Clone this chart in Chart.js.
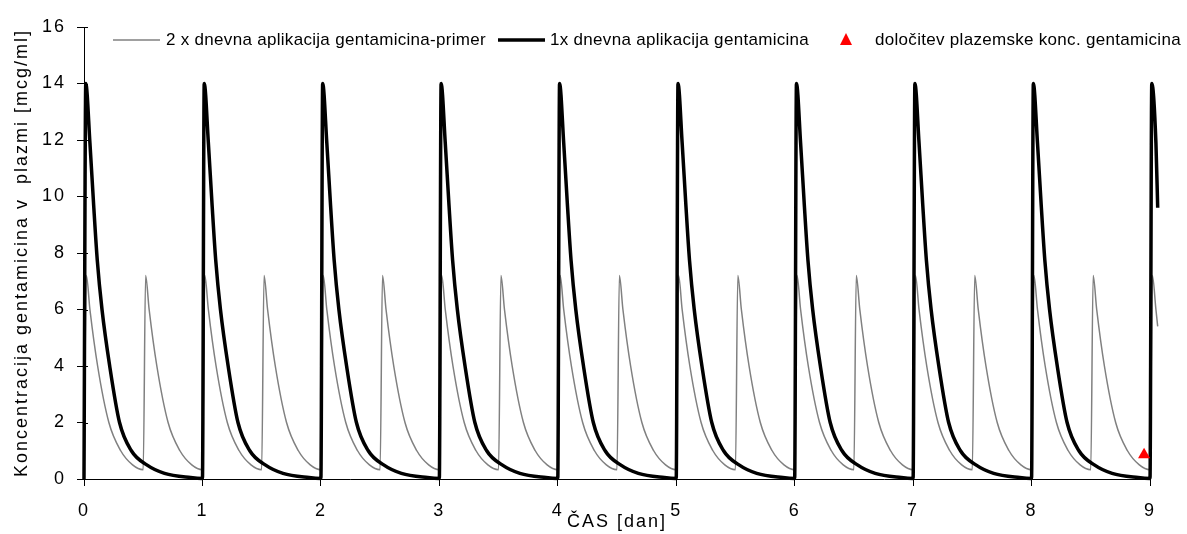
<!DOCTYPE html>
<html>
<head>
<meta charset="utf-8">
<script src="https://cdn.jsdelivr.net/npm/chart.js@4"></script>
<style>
  html, body { margin: 0; padding: 0; background: #fff; }
  #wrap { width: 1187px; height: 534px; position: relative; }
</style>
</head>
<body>
<div id="wrap"><canvas id="gentaChart"></canvas></div>
<script>
// one daily dose (1x) - time after dose [dan] and concentration [mcg/ml]
const onceOffsets = [0, 0.015, 0.05, 0.08, 0.112, 0.152, 0.217, 0.30, 0.40, 0.53, 0.68, 0.90];
const onceConc    = [0.02, 14, 11.9, 9.8, 7.75, 6, 4, 2, 1, 0.5, 0.2, 0.05];
const onceDoseDays = [0, 1, 2, 3, 4, 5, 6, 7, 8];
const onceTail = [[9, 0.02], [9.015, 14], [9.05, 11.9], [9.065, 9.6]];

// two daily doses - time after each dose and concentration
const twiceOffsets = [0, 0.02, 0.05, 0.115, 0.21, 0.31, 0.41];
const twiceConc    = [0.33, 7.2, 6, 4, 2, 1, 0.5];
const twiceDoseDays = [0, 0.5, 1, 1.5, 2, 2.5, 3, 3.5, 4, 4.5, 5, 5.5, 6, 6.5, 7, 7.5, 8, 8.5];
const twiceTail = [[9, 0.33], [9.02, 7.2], [9.05, 6], [9.065, 5.4]];

// measured plasma concentration
const sampleTime = [8.95];
const sampleConc = [0.86];

const xTicks = [0, 1, 2, 3, 4, 5, 6, 7, 8, 9];

function buildSeries(doseDays, offsets, conc, tail) {
  const pts = [];
  doseDays.forEach((d, i) => {
    offsets.forEach((o, j) => {
      // very first dose starts from zero
      const y = (i === 0 && j === 0) ? 0 : conc[j];
      pts.push({ x: d + o, y: y });
    });
  });
  tail.forEach(p => pts.push({ x: p[0], y: p[1] }));
  return pts;
}

const onceData = buildSeries(onceDoseDays, onceOffsets, onceConc, onceTail);
const twiceData = buildSeries(twiceDoseDays, twiceOffsets, twiceConc, twiceTail);
const sampleData = sampleTime.map((t, i) => ({ x: t, y: sampleConc[i] }));

const FONT = "'Liberation Sans', Arial, sans-serif";

// excel style cross ticks + legend inside the plot
const extras = {
  id: 'extras',
  beforeDraw(chart) {
    // axis texts in the original are drawn wider
    chart.ctx.letterSpacing = '2px';
  },
  afterDraw(chart) {
    const c = chart.ctx;
    const xs = chart.scales.x, ys = chart.scales.y;
    c.save();
    c.strokeStyle = '#000';
    c.lineWidth = 1;
    c.beginPath();
    xTicks.forEach(v => {
      const px = Math.round(xs.getPixelForValue(v)) + 0.5;
      c.moveTo(px, ys.bottom); c.lineTo(px, ys.bottom - 4);
    });
    for (let v = 0; v <= 16; v += 2) {
      const py = Math.round(ys.getPixelForValue(v)) + 0.5;
      c.moveTo(xs.left, py); c.lineTo(xs.left + 4, py);
    }
    c.stroke();

    const ly = 40;
    c.letterSpacing = '0.3px';
    c.font = '17px ' + FONT;
    c.fillStyle = '#000';
    c.textBaseline = 'middle';
    c.strokeStyle = '#808080'; c.lineWidth = 1.5;
    c.beginPath(); c.moveTo(113, ly); c.lineTo(160, ly); c.stroke();
    c.fillText('2 x dnevna aplikacija gentamicina-primer', 166, ly);
    c.strokeStyle = '#000'; c.lineWidth = 3.5;
    c.beginPath(); c.moveTo(498, ly); c.lineTo(545, ly); c.stroke();
    c.fillText('1x dnevna aplikacija gentamicina', 550, ly);
    c.fillStyle = '#ff0000';
    c.beginPath(); c.moveTo(846, ly - 7); c.lineTo(852, ly + 5); c.lineTo(840, ly + 5); c.closePath(); c.fill();
    c.fillStyle = '#000';
    c.fillText('določitev plazemske konc. gentamicina', 875, ly);
    c.restore();
    c.letterSpacing = '0px';
  }
};

const ctx = document.getElementById('gentaChart').getContext('2d');
const chart = new Chart(ctx, {
  type: 'line',
  data: {
    datasets: [
      {
        label: 'določitev plazemske konc. gentamicina',
        data: sampleData,
        showLine: false,
        pointStyle: 'triangle',
        pointRadius: 7,
        backgroundColor: '#ff0000',
        borderColor: '#ff0000',
        borderWidth: 0,
        clip: false
      },
      {
        label: '1x dnevna aplikacija gentamicina',
        data: onceData,
        borderColor: '#000',
        borderWidth: 3.5,
        pointRadius: 0,
        cubicInterpolationMode: 'monotone',
        clip: false
      },
      {
        label: '2 x dnevna aplikacija gentamicina-primer',
        data: twiceData,
        borderColor: '#808080',
        borderWidth: 1.5,
        pointRadius: 0,
        cubicInterpolationMode: 'monotone',
        clip: false
      }
    ]
  },
  options: {
    responsive: true,
    maintainAspectRatio: false,
    animation: false,
    layout: { padding: { top: 27, right: 37, left: 0, bottom: 0 } },
    plugins: {
      legend: { display: false },
      tooltip: { enabled: false }
    },
    scales: {
      x: {
        type: 'linear',
        // set here and not as min/max so the short tail after day 9 still gets drawn
        afterDataLimits: s => { s.min = 0; s.max = 9; },
        afterBuildTicks: s => { s.ticks = xTicks.map(v => ({ value: v })); },
        afterFit: s => { s.height = 55; },
        grid: { drawOnChartArea: false, color: '#000', tickLength: 7, tickColor: '#000' },
        border: { color: '#000', width: 1 },
        ticks: { color: '#000', font: { family: FONT, size: 18 }, padding: 14 },
        title: {
          display: true,
          text: 'ČAS [dan]',
          color: '#000',
          font: { family: FONT, size: 18 },
          padding: { top: 0, bottom: 1 }
        }
      },
      y: {
        min: 0,
        max: 16,
        ticks: { stepSize: 2, color: '#000', font: { family: FONT, size: 18 }, padding: 11 },
        afterFit: s => { s.width = 84; },
        grid: { drawOnChartArea: false, color: '#000', tickLength: 7, tickColor: '#000' },
        border: { color: '#000', width: 1 },
        title: {
          display: true,
          text: 'Koncentracija gentamicina v  plazmi [mcg/ml]',
          color: '#000',
          font: { family: FONT, size: 18 },
          padding: { top: 11, bottom: 0 }
        }
      }
    }
  },
  plugins: [extras]
});
</script>
</body>
</html>
